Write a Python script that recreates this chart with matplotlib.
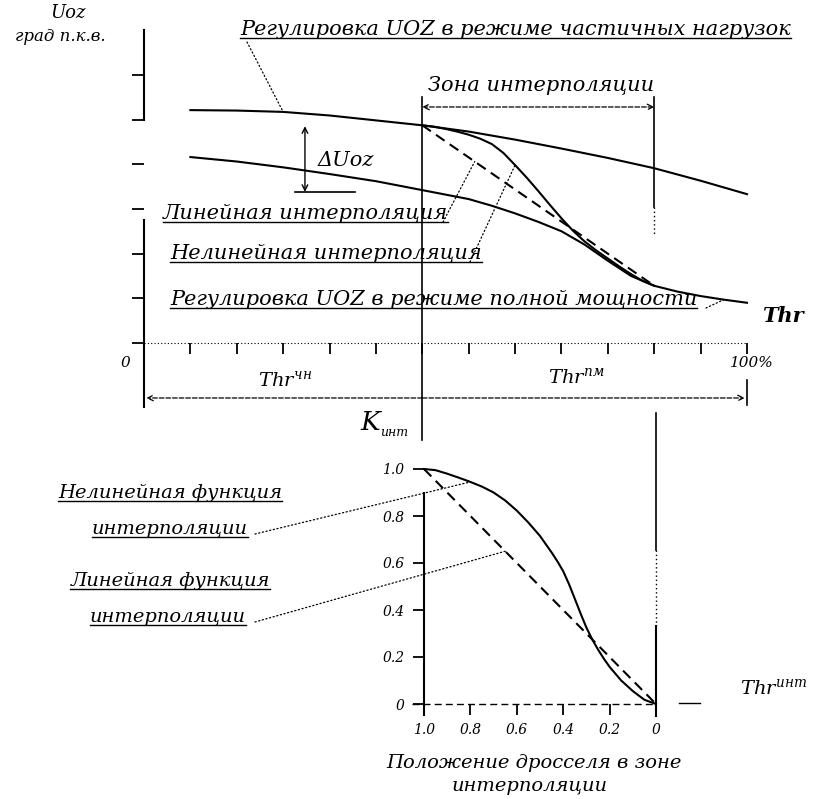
import numpy as np
import matplotlib
matplotlib.use("Agg")
import matplotlib.pyplot as plt
from matplotlib.lines import Line2D
from matplotlib.transforms import IdentityTransform

W, H = 814, 799

# ---------- top chart: throttle (tick units, 13 = 100 %) vs ignition advance ----------
thr_partial = [1, 2, 3, 4, 5, 6, 7, 8, 9, 10, 11, 12, 13]
uoz_partial = [5.21, 5.20, 5.17, 5.09, 4.98, 4.87, 4.73, 4.55, 4.35, 4.14, 3.91, 3.63, 3.33]
thr_power = [1, 2, 3, 4, 5, 6, 7, 7.5, 8, 8.5, 9, 9.5, 10, 10.5, 11, 11.5, 12, 12.5, 13]
uoz_power = [4.16, 4.06, 3.93, 3.78, 3.62, 3.42, 3.22, 3.07, 2.90, 2.71, 2.50, 2.20, 1.84,
             1.50, 1.28, 1.15, 1.05, 0.97, 0.90]
thr_zone = [6, 6.25, 6.5, 6.75, 7, 7.25, 7.5, 7.75, 8, 8.25, 8.5, 8.75, 9, 9.25, 9.5,
            9.75, 10, 10.25, 10.5, 10.75, 11]
uoz_nonlin = [4.87, 4.84, 4.79, 4.73, 4.66, 4.57, 4.45, 4.25, 3.98, 3.70, 3.40, 3.09, 2.79,
              2.51, 2.27, 2.07, 1.89, 1.71, 1.54, 1.39, 1.28]
thr_lin = [6, 11]
uoz_lin = [4.87, 1.28]

# ---------- bottom chart: throttle position in zone vs K_int ----------
pos = [1.00, 0.95, 0.90, 0.85, 0.80, 0.75, 0.70, 0.65, 0.60, 0.55, 0.50, 0.45,
       0.425, 0.40, 0.375, 0.35, 0.325, 0.30, 0.275, 0.25, 0.225, 0.20,
       0.15, 0.10, 0.05, 0.00]
k_nonlin = [1.000, 0.995, 0.980, 0.963, 0.945, 0.925, 0.900, 0.866, 0.823, 0.772, 0.715, 0.645,
            0.607, 0.565, 0.510, 0.448, 0.385, 0.325, 0.275, 0.232, 0.193, 0.158,
            0.100, 0.055, 0.018, 0.000]
pos_lin = [1.0, 0.0]
k_lin = [1.0, 0.0]
k_ticks = [0, 0.2, 0.4, 0.6, 0.8, 1.0]
k_labels = ["0", "0.2", "0.4", "0.6", "0.8", "1.0"]
pos_ticks = [1.0, 0.8, 0.6, 0.4, 0.2, 0.0]
pos_labels = ["1.0", "0.8", "0.6", "0.4", "0.2", "0"]

plt.rcParams["font.family"] = "DejaVu Serif"
plt.rcParams["font.style"] = "italic"
plt.rcParams["mathtext.fontset"] = "dejavuserif"

fig = plt.figure(figsize=(W / 100, H / 100), dpi=100)
LW = 1.5
DOT = (0, (1, 2))
DASH = (0, (5, 3))

# ---- top axes
ax = fig.add_axes([144 / W, 1 - 343 / H, 603 / W, 333 / H])
ax.set_xlim(0, 13)
ax.set_ylim(0, 333 / 44.7)
for s in ax.spines.values():
    s.set_visible(False)
ax.set_xticks(range(1, 14))
ax.set_yticks(range(0, 7))
ax.tick_params(axis="x", direction="out", length=8, width=1.3, labelbottom=False)
ax.tick_params(axis="y", direction="out", length=9, width=1.3, labelleft=False)
ax.plot([0, 13], [0, 0], color="k", lw=0.8, ls=DOT, clip_on=False)

ax.plot([0, 0], [7.0, 4.99], color="k", lw=LW, clip_on=False)
ax.plot([0, 0], [2.75, -1.43], color="k", lw=LW, clip_on=False)

ax.plot(thr_partial, uoz_partial, color="k", lw=LW, clip_on=False)
ax.plot(thr_power, uoz_power, color="k", lw=LW, clip_on=False)
ax.plot(thr_zone, uoz_nonlin, color="k", lw=LW, clip_on=False)
ax.plot(thr_lin, uoz_lin, color="k", lw=LW, ls=DASH, clip_on=False)

# zone borders
ax.plot([6, 6], [5.5, -2.17], color="k", lw=1.2, clip_on=False)
ax.plot([11, 11], [5.5, 3.04], color="k", lw=1.2, clip_on=False)
ax.plot([11, 11], [3.04, 2.4], color="k", lw=1.0, ls=DOT, clip_on=False)
ax.annotate("", xy=(6, 5.28), xytext=(11, 5.28),
            arrowprops=dict(arrowstyle="<->", lw=0.9, ls="--", shrinkA=0, shrinkB=0))

# dimension line below
ax.annotate("", xy=(0.05, -1.23), xytext=(6, -1.23),
            arrowprops=dict(arrowstyle="->", lw=0.9, ls="--", shrinkA=0, shrinkB=0),
            annotation_clip=False)
ax.annotate("", xy=(12.95, -1.23), xytext=(6, -1.23),
            arrowprops=dict(arrowstyle="->", lw=0.9, ls="--", shrinkA=0, shrinkB=0),
            annotation_clip=False)
ax.plot([13, 13], [-0.83, -1.39], color="k", lw=1.2, clip_on=False)

# delta Uoz
ax.annotate("", xy=(3.47, 4.85), xytext=(3.47, 3.38),
            arrowprops=dict(arrowstyle="<->", lw=1.0, shrinkA=0, shrinkB=0))
ax.plot([3.25, 4.55], [3.38, 3.38], color="k", lw=1.2)

# ---- bottom axes
bx = fig.add_axes([424 / W, 1 - 704 / H, 232 / W, 235 / H])
bx.set_xlim(1.0, 0.0)
bx.set_ylim(0, 1)
for s in bx.spines.values():
    s.set_visible(False)
bx.set_xticks(pos_ticks)
bx.set_xticklabels(pos_labels)
bx.set_yticks(k_ticks)
bx.set_yticklabels(k_labels)
bx.tick_params(direction="out", length=8, width=1.3, labelsize=10, pad=6)

bx.plot([1.0, 1.0], [0.90, -0.047], color="k", lw=LW, clip_on=False)
bx.plot([1.05, 0.0], [0, 0], color="k", lw=1.0, ls=DASH, clip_on=False)
bx.plot([-0.10, -0.19], [0.005, 0.005], color="k", lw=1.0, clip_on=False)
bx.plot([0, 0], [1.24, 0.655], color="k", lw=1.2, clip_on=False)
bx.plot([0, 0], [0.655, 0.33], color="k", lw=1.0, ls=DOT, clip_on=False)
bx.plot([0, 0], [0.33, -0.05], color="k", lw=LW, clip_on=False)

bx.plot(pos, k_nonlin, color="k", lw=LW, clip_on=False)
bx.plot(pos_lin, k_lin, color="k", lw=LW, ls=DASH, clip_on=False)

# ---- texts
under = []


def label(x, y, s, size=15, ha="left", ul=False, **kw):
    t = fig.text(x / W, 1 - y / H, s, fontsize=size, ha=ha, va="baseline", **kw)
    if ul:
        under.append(t)
    return t


def leader(a, xy, x, y):
    a.annotate("", xy=xy, xytext=(x, H - y), textcoords="figure pixels",
               arrowprops=dict(arrowstyle="-", ls=DOT, lw=0.9, shrinkA=0, shrinkB=0),
               annotation_clip=False)


label(50, 18, "Uoz", 13)
label(15, 41, "град п.к.в.", 12)
label(240, 35, "Регулировка UOZ в режиме частичных нагрузок", 15, ul=True)
label(428, 91, "Зона интерполяции", 15)
label(318, 166, "ΔUoz", 15)
label(163, 219, "Линейная интерполяция", 15, ul=True)
label(170, 259, "Нелинейная интерполяция", 15, ul=True)
label(170, 305, "Регулировка UOZ в режиме полной мощности", 15, ul=True)
label(762, 322, "Thr", 15, weight="bold")
label(125, 367, "0", 11, ha="center")
label(730, 367, "100%", 11)
label(258, 386, r"$\mathit{Thr}^{\mathit{чн}}$", 14)
label(548, 383, r"$\mathit{Thr}^{\mathit{пм}}$", 14)
label(360, 430, "K", 19)
label(380, 436, "инт", 9)
label(170, 498, "Нелинейная функция", 14, ha="center", ul=True)
label(170, 534, "интерполяции", 14, ha="center", ul=True)
label(170, 586, "Линейная функция", 14, ha="center", ul=True)
label(168, 622, "интерполяции", 14, ha="center", ul=True)
label(740, 694, r"$\mathit{Thr}^{\mathit{инт}}$", 14)
label(534, 768, "Положение дросселя в зоне", 14, ha="center")
label(530, 791, "интерполяции", 14, ha="center")

leader(ax, (thr_partial[2], uoz_partial[2]), 247, 42)
leader(ax, (7.13, float(np.interp(7.13, thr_lin, uoz_lin))), 443, 222)
leader(ax, (thr_zone[8], uoz_nonlin[8]), 470, 262)
leader(ax, (thr_power[17], uoz_power[17]), 706, 308)
leader(bx, (pos[4], k_nonlin[4]), 255, 534)
leader(bx, (0.65, float(np.interp(0.65, pos_lin[::-1], k_lin[::-1]))), 255, 622)

renderer = fig.canvas.get_renderer()
for t in under:
    bb = t.get_window_extent(renderer)
    yb = fig.transFigure.transform(t.get_position())[1] - 3
    fig.add_artist(Line2D([bb.x0, bb.x1], [yb, yb], color="k", lw=1.0,
                          transform=IdentityTransform()))

fig.savefig("out.png", dpi=100)
